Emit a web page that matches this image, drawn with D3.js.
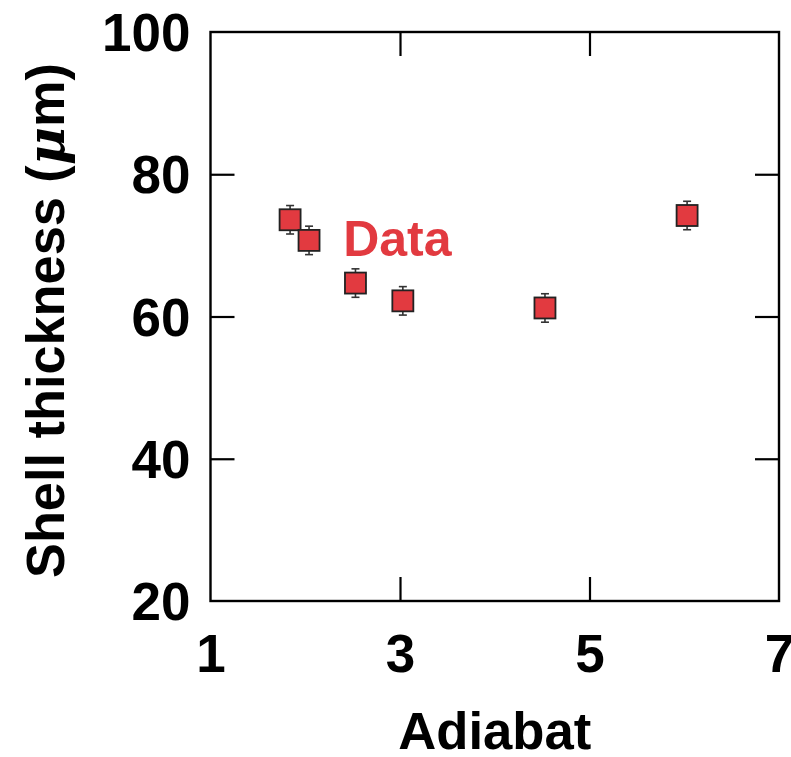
<!DOCTYPE html>
<html>
<head>
<meta charset="utf-8">
<script src="https://cdn.jsdelivr.net/npm/d3@7"></script>
<style>
  html, body { margin: 0; padding: 0; background: #fff; }
  svg { display: block; }
  text { font-family: "Liberation Sans", Arial, Helvetica, sans-serif; font-weight: bold; fill: #000; }
</style>
</head>
<body>
<svg id="chart" width="791" height="757"></svg>
<script>
// Shell thickness measured at each adiabat
const adiabat   = [1.84, 2.04, 2.53, 3.03, 4.53, 6.03];
const thickness = [73.6, 70.7, 64.7, 62.2, 61.2, 74.2];
const thickErr  = [2.0, 2.0, 2.0, 2.0, 2.0, 2.0];

const xTicks = [1, 3, 5, 7];
const yTicks = [20, 40, 60, 80, 100];
const seriesLabel = "Data";

const W = 791, H = 757;
const margin = { left: 210.5, top: 32, right: 12, bottom: 156 };
const innerW = W - margin.left - margin.right;
const innerH = H - margin.top - margin.bottom;

const svg = d3.select("#chart");
const g = svg.append("g").attr("transform", `translate(${margin.left},${margin.top})`);

const x = d3.scaleLinear().domain([1, 7]).range([0, innerW]);
const y = d3.scaleLinear().domain([20, 100]).range([innerH, 0]);

const tickLen = 24;
const tickFont = 53;

// inward ticks on all four sides
function styleAxis(sel) {
  sel.select(".domain").remove();
  sel.selectAll(".tick line").attr("stroke", "#000").attr("stroke-width", 2.2);
}

g.append("g").attr("transform", `translate(0,${innerH})`)
  .call(d3.axisBottom(x).tickValues(xTicks).tickSizeInner(-tickLen).tickSizeOuter(0).tickFormat(d3.format("d")))
  .call(styleAxis)
  .call(s => s.selectAll(".tick text").attr("font-size", tickFont).attr("y", 71).attr("dy", 0));

g.append("g")
  .call(d3.axisTop(x).tickValues(xTicks).tickSizeInner(-tickLen).tickSizeOuter(0).tickFormat(""))
  .call(styleAxis);

g.append("g")
  .call(d3.axisLeft(y).tickValues(yTicks).tickSizeInner(-tickLen).tickSizeOuter(0).tickPadding(20).tickFormat(d3.format("d")))
  .call(styleAxis)
  .call(s => s.selectAll(".tick text").attr("font-size", tickFont).attr("dy", "0.35em"));

g.append("g").attr("transform", `translate(${innerW},0)`)
  .call(d3.axisRight(y).tickValues(yTicks).tickSizeInner(-tickLen).tickSizeOuter(0).tickFormat(""))
  .call(styleAxis);

// ticks that would sit on the frame corners are not drawn
g.selectAll(".tick").filter(d => d === 1 || d === 7 || d === 20 || d === 100).select("line").remove();

// frame
g.append("rect").attr("width", innerW).attr("height", innerH)
  .attr("fill", "none").attr("stroke", "#000").attr("stroke-width", 2.4);

const data = adiabat.map((a, i) => ({ a, t: thickness[i], e: thickErr[i] }));
const box = 21, cap = 8;

const pts = g.append("g").selectAll("g.pt").data(data).join("g").attr("class", "pt");

pts.append("line")
  .attr("x1", d => x(d.a)).attr("x2", d => x(d.a))
  .attr("y1", d => y(d.t - d.e)).attr("y2", d => y(d.t + d.e))
  .attr("stroke", "#333").attr("stroke-width", 1.6);
pts.append("line")
  .attr("x1", d => x(d.a) - cap / 2).attr("x2", d => x(d.a) + cap / 2)
  .attr("y1", d => y(d.t + d.e)).attr("y2", d => y(d.t + d.e))
  .attr("stroke", "#333").attr("stroke-width", 1.6);
pts.append("line")
  .attr("x1", d => x(d.a) - cap / 2).attr("x2", d => x(d.a) + cap / 2)
  .attr("y1", d => y(d.t - d.e)).attr("y2", d => y(d.t - d.e))
  .attr("stroke", "#333").attr("stroke-width", 1.6);
pts.append("rect")
  .attr("x", d => x(d.a) - box / 2).attr("y", d => y(d.t) - box / 2)
  .attr("width", box).attr("height", box)
  .attr("fill", "#e23a40").attr("stroke", "#222").attr("stroke-width", 1.8);

// series label
g.append("text")
  .attr("x", x(2.40)).attr("y", y(68.5))
  .attr("font-size", 50)
  .style("fill", "#e23a40")
  .text(seriesLabel);

// axis titles
svg.append("text")
  .attr("x", margin.left + innerW / 2).attr("y", 749)
  .attr("text-anchor", "middle").attr("font-size", 51)
  .attr("textLength", 193).attr("lengthAdjust", "spacingAndGlyphs")
  .text("Adiabat");

const yt = svg.append("text")
  .attr("transform", `translate(64,${margin.top + innerH / 2 + 4}) rotate(-90)`)
  .attr("text-anchor", "middle").attr("font-size", 53)
  .attr("textLength", 515).attr("lengthAdjust", "spacingAndGlyphs");
yt.append("tspan").text("Shell thickness (");
yt.append("tspan").style("font-style", "italic").attr("font-family", "'DejaVu Serif', serif").text("\u03BC");
yt.append("tspan").text("m)");
</script>
</body>
</html>
